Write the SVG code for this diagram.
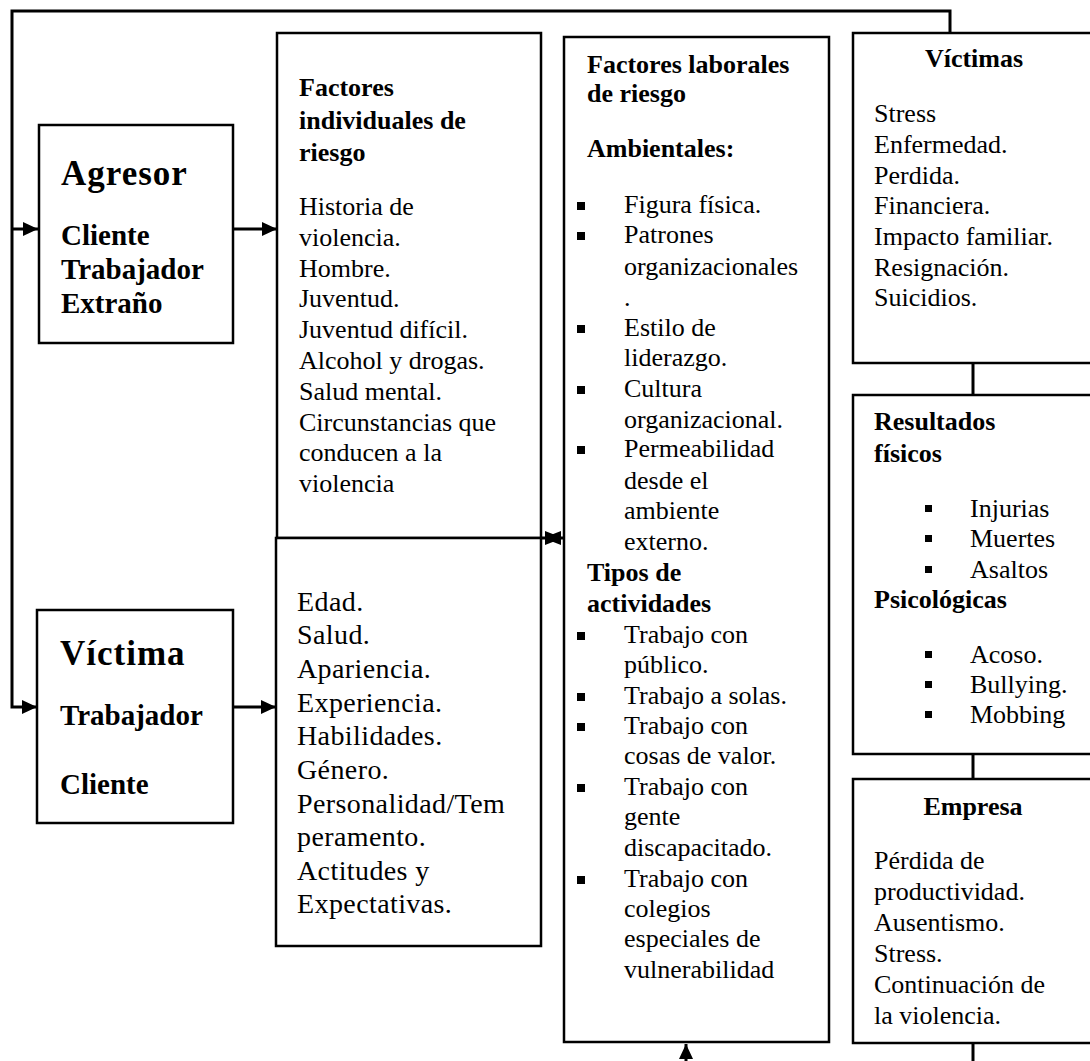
<svg xmlns="http://www.w3.org/2000/svg" width="1090" height="1061" viewBox="0 0 1090 1061">
<style>
.box{fill:#fff;stroke:#000;stroke-width:2.5}
.con{stroke:#000;stroke-width:3;fill:none}
text{font-family:"Liberation Serif","Times New Roman",serif;fill:#000;font-size:26px}
.b{font-weight:bold}
.big{font-size:35px;font-weight:bold;letter-spacing:1px}
.sub{font-size:29px;font-weight:bold}
.l{font-size:28px;letter-spacing:0.4px}
.c{text-anchor:middle}
.bul{fill:#000}
</style>
<defs>
<marker id="ah" viewBox="0 0 15 14" refX="15" refY="7" markerWidth="15" markerHeight="14" orient="auto" markerUnits="userSpaceOnUse">
<path d="M0,0 L15,7 L0,14 z" fill="#000"/>
</marker>
</defs>
<rect width="1090" height="1061" fill="#fff"/>

<g id="agresor">
<rect class="box" x="39" y="125" width="194" height="218"/>
<text class="big" x="61" y="185">Agresor</text>
<text class="sub" x="61" y="245">Cliente</text>
<text class="sub" x="61" y="279">Trabajador</text>
<text class="sub" x="61" y="313">Extraño</text>
</g>

<g id="victima">
<rect class="box" x="37" y="610" width="196" height="213"/>
<text class="big" x="60" y="665">Víctima</text>
<text class="sub" x="60" y="725">Trabajador</text>
<text class="sub" x="60" y="794">Cliente</text>
</g>

<g id="factores-individuales">
<rect class="box" x="277" y="33" width="264" height="505"/>
<text class="b" x="299" y="96">Factores</text>
<text class="b" x="299" y="129">individuales de</text>
<text class="b" x="299" y="161">riesgo</text>
<text x="299" y="215">Historia de</text>
<text x="299" y="246">violencia.</text>
<text x="299" y="277">Hombre.</text>
<text x="299" y="307">Juventud.</text>
<text x="299" y="338">Juventud difícil.</text>
<text x="299" y="369">Alcohol y drogas.</text>
<text x="299" y="400">Salud mental.</text>
<text x="299" y="431">Circunstancias que</text>
<text x="299" y="461">conducen a la</text>
<text x="299" y="492">violencia</text>
</g>

<g id="factores-victima">
<rect class="box" x="276" y="538" width="265" height="408"/>
<text class="l" x="297" y="611">Edad.</text>
<text class="l" x="297" y="644">Salud.</text>
<text class="l" x="297" y="678">Apariencia.</text>
<text class="l" x="297" y="712">Experiencia.</text>
<text class="l" x="297" y="745">Habilidades.</text>
<text class="l" x="297" y="779">Género.</text>
<text class="l" x="297" y="813">Personalidad/Tem</text>
<text class="l" x="297" y="846">peramento.</text>
<text class="l" x="297" y="880">Actitudes y</text>
<text class="l" x="297" y="913">Expectativas.</text>
</g>

<g id="factores-laborales">
<rect class="box" x="564" y="37" width="265" height="1005"/>
<text class="b" x="587" y="73">Factores laborales</text>
<text class="b" x="587" y="102">de riesgo</text>
<text class="b" x="587" y="157">Ambientales:</text>
<rect class="bul" x="577" y="202" width="8" height="8"/>
<text x="624" y="213">Figura física.</text>
<rect class="bul" x="577" y="232" width="8" height="8"/>
<text x="624" y="243">Patrones</text>
<text x="624" y="275">organizacionales</text>
<text x="624" y="306">.</text>
<rect class="bul" x="577" y="325" width="8" height="8"/>
<text x="624" y="336">Estilo de</text>
<text x="624" y="366">liderazgo.</text>
<rect class="bul" x="577" y="386" width="8" height="8"/>
<text x="624" y="397">Cultura</text>
<text x="624" y="428">organizacional.</text>
<rect class="bul" x="577" y="446" width="8" height="8"/>
<text x="624" y="457">Permeabilidad</text>
<text x="624" y="489">desde el</text>
<text x="624" y="519">ambiente</text>
<text x="624" y="550">externo.</text>
<text class="b" x="587" y="581">Tipos de</text>
<text class="b" x="587" y="612">actividades</text>
<rect class="bul" x="577" y="632" width="8" height="8"/>
<text x="624" y="643">Trabajo con</text>
<text x="624" y="673">público.</text>
<rect class="bul" x="577" y="693" width="8" height="8"/>
<text x="624" y="704">Trabajo a solas.</text>
<rect class="bul" x="577" y="723" width="8" height="8"/>
<text x="624" y="734">Trabajo con</text>
<text x="624" y="764">cosas de valor.</text>
<rect class="bul" x="577" y="784" width="8" height="8"/>
<text x="624" y="795">Trabajo con</text>
<text x="624" y="825">gente</text>
<text x="624" y="856">discapacitado.</text>
<rect class="bul" x="577" y="876" width="8" height="8"/>
<text x="624" y="887">Trabajo con</text>
<text x="624" y="917">colegios</text>
<text x="624" y="947">especiales de</text>
<text x="624" y="978">vulnerabilidad</text>
</g>

<g id="victimas">
<rect class="box" x="853" y="33" width="250" height="330"/>
<text class="b c" x="974" y="67">Víctimas</text>
<text x="874" y="122">Stress</text>
<text x="874" y="153">Enfermedad.</text>
<text x="874" y="184">Perdida.</text>
<text x="874" y="214">Financiera.</text>
<text x="874" y="245">Impacto familiar.</text>
<text x="874" y="276">Resignación.</text>
<text x="874" y="306">Suicidios.</text>
</g>

<g id="resultados">
<rect class="box" x="853" y="395" width="250" height="359"/>
<text class="b" x="874" y="430">Resultados</text>
<text class="b" x="874" y="462">físicos</text>
<rect class="bul" x="925" y="505" width="7" height="7"/>
<text x="970" y="517">Injurias</text>
<rect class="bul" x="925" y="535" width="7" height="7"/>
<text x="970" y="547">Muertes</text>
<rect class="bul" x="925" y="566" width="7" height="7"/>
<text x="970" y="578">Asaltos</text>
<text class="b" x="874" y="608">Psicológicas</text>
<rect class="bul" x="925" y="651" width="7" height="7"/>
<text x="970" y="663">Acoso.</text>
<rect class="bul" x="925" y="681" width="7" height="7"/>
<text x="970" y="693">Bullying.</text>
<rect class="bul" x="925" y="711" width="7" height="7"/>
<text x="970" y="723">Mobbing</text>
</g>

<g id="empresa">
<rect class="box" x="853" y="779" width="250" height="264"/>
<text class="b c" x="973" y="815">Empresa</text>
<text x="874" y="869">Pérdida de</text>
<text x="874" y="900">productividad.</text>
<text x="874" y="931">Ausentismo.</text>
<text x="874" y="962">Stress.</text>
<text x="874" y="993">Continuación de</text>
<text x="874" y="1024">la violencia.</text>
</g>

<g id="connectors">
<path class="con" d="M950,33 V11 H12 V707 H37" marker-end="url(#ah)"/>
<path class="con" d="M12,229 H38" marker-end="url(#ah)"/>
<path class="con" d="M233,229 H277" marker-end="url(#ah)"/>
<path class="con" d="M233,707 H276" marker-end="url(#ah)"/>
<path class="con" d="M541,538 H564"/>
<polygon points="545,531 563,538 545,545" fill="#000"/>
<polygon points="561,531 543,538 561,545" fill="#000"/>
<path class="con" d="M686,1061 V1044" marker-end="url(#ah)"/>
<path class="con" d="M973,363 V395"/>
<path class="con" d="M973,754 V779"/>
<path class="con" d="M973,1043 V1061"/>
</g>
</svg>
